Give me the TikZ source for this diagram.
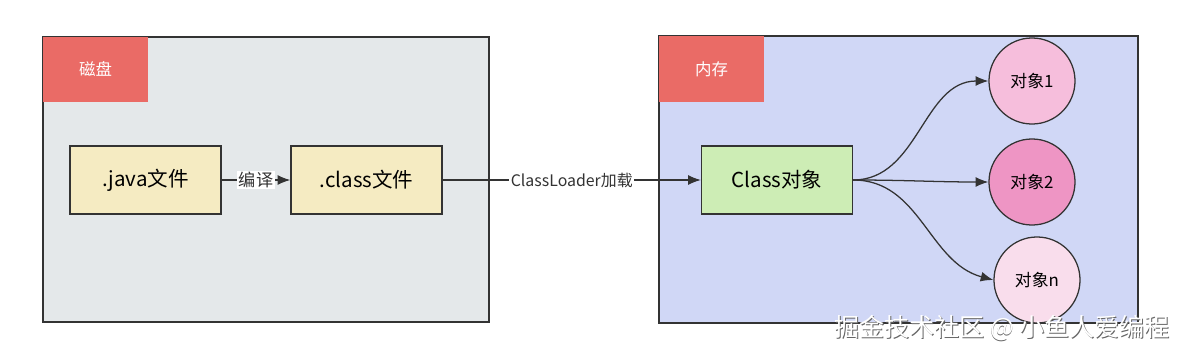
\documentclass[tikz,border=0pt]{standalone}
\usepackage{fontspec}
\setmainfont{Noto Sans CJK SC}
\usetikzlibrary{arrows.meta,positioning}
\definecolor{diskfill}{HTML}{E4E8EA}
\definecolor{memfill}{HTML}{D0D7F6}
\definecolor{headred}{HTML}{EA6B66}
\definecolor{fileyellow}{HTML}{F5EBC2}
\definecolor{clsgreen}{HTML}{CDEDB5}
\definecolor{objone}{HTML}{F6BEDC}
\definecolor{objtwo}{HTML}{EE95C4}
\definecolor{objlast}{HTML}{F9DDEC}
\definecolor{ink}{HTML}{333333}
\tikzset{
  header/.style={fill=headred,text=white,minimum width=2.625cm,minimum height=1.625cm,inner sep=0pt,font=\fontsize{11.7}{13}\selectfont},
  filebox/.style={draw=ink,line width=0.9pt,minimum width=3.775cm,minimum height=1.7cm,inner sep=0pt,font=\fontsize{14.6}{16}\selectfont},
  objcircle/.style={circle,draw=ink,line width=0.9pt,minimum size=2.15cm,inner sep=0pt,font=\fontsize{12}{14}\selectfont},
  arr/.style={draw=ink,line width=0.9pt,-{Latex[length=9pt,width=7pt]}},
  lbl/.style={fill=white,inner sep=1pt,text=ink}
}
\begin{document}
\begin{tikzpicture}[x=0.025cm,y=-0.025cm]
  \useasboundingbox (0,0) rectangle (1180,356);
  \draw[ink,line width=0.9pt,fill=diskfill] (43,37) rectangle (489,322);
  \draw[ink,line width=0.9pt,fill=memfill] (659,36) rectangle (1138,323);
  \node[header] (disk) at (95.5,69.5) {磁盘};
  \node[header] (mem) at (711.5,69) {内存};
  \node[filebox,fill=fileyellow] (java) at (145.5,180) {.java文件};
  \node[filebox,fill=fileyellow] (cls) at (366.5,180) {.class文件};
  \node[filebox,fill=clsgreen] (clsobj) at (777,180) {Class对象};
  \node[objcircle,fill=objone] (obj1) at (1032,81) {对象1};
  \node[objcircle,fill=objtwo] (obj2) at (1032,182) {对象2};
  \node[objcircle,fill=objlast] (objn) at (1037,280) {对象n};
  \draw[arr] (java) -- node[lbl,font=\fontsize{12.2}{14}\selectfont] {编译} (cls);
  \draw[arr] (cls) -- node[lbl,font=\fontsize{11.3}{13}\selectfont] {ClassLoader加载} (clsobj);
  \draw[arr] (clsobj.east) to[out=0,in=180] (obj1.west);
  \draw[arr] (clsobj.east) to[out=0,in=180] (obj2.west);
  \draw[arr] (clsobj.east) to[out=0,in=165] (objn.west);
  \node[text=gray!80!black,font=\fontsize{17.8}{20}\selectfont] (markshade) at (1002.8,328.8) {掘金技术社区 @ 小鱼人爱编程};
  \node[text=white,font=\fontsize{17.8}{20}\selectfont] (mark) at (1002,328) {掘金技术社区 @ 小鱼人爱编程};
\end{tikzpicture}
\end{document}
